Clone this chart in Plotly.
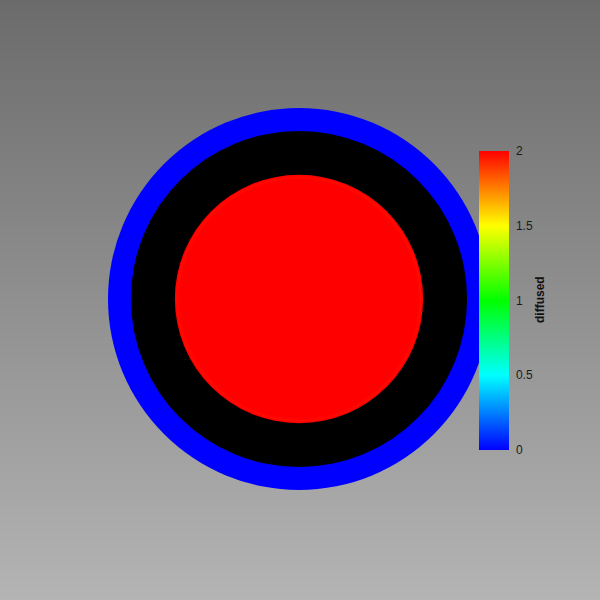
import numpy as np
import plotly.graph_objects as go

# ---- data ----
ring_radii = [1.0, 0.88, 0.65]           # outer blue ring, black ring, red core (model units)
ring_values = [0.0, None, 2.0]           # diffused value of each region (None = no data, black)
cbar_tickvals = [0, 0.5, 1, 1.5, 2]
cbar_ticktext = ["0", "0.5", "1", "1.5", "2"]
field_name = "diffused"
cmin, cmax = 0.0, 2.0

colorscale = [[0.0, "#0000ff"], [0.25, "#00ffff"], [0.5, "#00ff00"],
              [0.75, "#ffff00"], [1.0, "#ff0000"]]

# ---- helpers ----
def hex2rgb(h):
    h = h.lstrip("#")
    return tuple(int(h[i:i + 2], 16) for i in (0, 2, 4))

def value_color(v):
    t = (v - cmin) / (cmax - cmin)
    for (t0, c0), (t1, c1) in zip(colorscale[:-1], colorscale[1:]):
        if t0 <= t <= t1:
            f = 0 if t1 == t0 else (t - t0) / (t1 - t0)
            a, b = hex2rgb(c0), hex2rgb(c1)
            return "rgb(%d,%d,%d)" % tuple(round(a[i] + f * (b[i] - a[i])) for i in range(3))
    return colorscale[-1][1]

W = H = 600
px_per_unit = 191.0
cx_px, cy_px = 299.0, 299.0
xr = [-cx_px / px_per_unit, (W - cx_px) / px_per_unit]
yr = [-(H - cy_px) / px_per_unit, cy_px / px_per_unit]

fig = go.Figure()

# background gradient
bg = np.linspace(0, 1, 200).reshape(-1, 1)
fig.add_trace(go.Heatmap(z=bg, x=[0, 1], xaxis="x2", yaxis="y2",
                         colorscale=[[0, "#b4b4b4"], [1, "#6b6b6b"]],
                         showscale=False, hoverinfo="skip", zsmooth="best"))

# colorbar carrier
fig.add_trace(go.Scatter(x=[0, 0], y=[0, 0], mode="markers",
                         marker=dict(size=0.1, opacity=0, color=[cmin, cmax], cmin=cmin, cmax=cmax,
                                     colorscale=colorscale, showscale=True,
                                     colorbar=dict(thicknessmode="pixels", thickness=30,
                                                   lenmode="pixels", len=299,
                                                   x=479 / W, xanchor="left", xref="paper",
                                                   y=1 - 300.5 / H, yanchor="middle", yref="paper",
                                                   xpad=0, ypad=0, outlinewidth=0,
                                                   ticks="outside", ticklen=5,
                                                   tickcolor="rgba(0,0,0,0)",
                                                   tickvals=cbar_tickvals,
                                                   ticktext=cbar_ticktext,
                                                   tickfont=dict(family="Liberation Sans", size=12,
                                                                 color="#1a1a1a"))),
                         hoverinfo="skip", showlegend=False))

# discs
shapes = []
for r, v in zip(ring_radii, ring_values):
    col = "#000000" if v is None else value_color(v)
    shapes.append(dict(type="circle", xref="x", yref="y", x0=-r, x1=r, y0=-r, y1=r,
                       fillcolor=col, line=dict(width=0), layer="above"))
# slight diffusion at edge of the core
r_core, v_core = ring_radii[2], ring_values[2]
for k, dv in enumerate([0.02, 0.01, 0.0]):
    rr = r_core - 0.008 * (k + 1)
    shapes.append(dict(type="circle", xref="x", yref="y", x0=-rr, x1=rr, y0=-rr, y1=rr,
                       fillcolor=value_color(v_core - dv), line=dict(width=0), layer="above"))

fig.update_layout(
    width=W, height=H, margin=dict(l=0, r=0, t=0, b=0),
    paper_bgcolor="#8f8f8f", plot_bgcolor="rgba(0,0,0,0)",
    shapes=shapes,
    xaxis=dict(range=xr, visible=False, domain=[0, 1]),
    yaxis=dict(range=yr, visible=False, domain=[0, 1]),
    xaxis2=dict(range=[0, 1], visible=False, domain=[0, 1], overlaying="x"),
    yaxis2=dict(range=[0, 199], visible=False, domain=[0, 1], overlaying="y"),
    showlegend=False,
    annotations=[dict(text="<b>%s</b>" % field_name, x=540 / W, y=1 - 300 / H,
                      xref="paper", yref="paper", xanchor="center", yanchor="middle",
                      textangle=-90, showarrow=False,
                      font=dict(family="Liberation Sans", size=12, color="#111111"))],
)

fig.write_html("out.html", config={"displayModeBar": False},
               post_script="document.body.style.margin='0';document.body.style.overflow='hidden';")
